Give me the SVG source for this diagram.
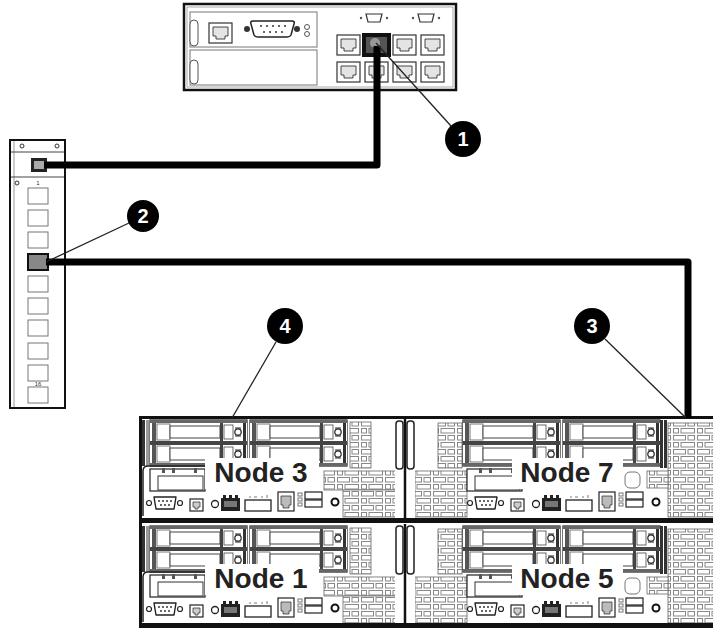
<svg xmlns="http://www.w3.org/2000/svg" width="713" height="628" viewBox="0 0 713 628">
<style>
.port{fill:#fff;stroke:#333;stroke-width:1.2}
.jack{fill:#e4e4e4;stroke:#333;stroke-width:0.9}
.swp{fill:#fff;stroke:#777;stroke-width:1}
.vent{fill:url(#brick);stroke:#666;stroke-width:0.8}
.cable{fill:none;stroke:#000;stroke-width:7;stroke-linejoin:round}
.lead{fill:none;stroke:#222;stroke-width:1.3}
.co{fill:#000}
.num{font-family:"Liberation Sans",Arial,sans-serif;font-weight:bold;font-size:20px;fill:#fff;text-anchor:middle}
.lbl{font-family:"Liberation Sans",Arial,sans-serif;font-weight:bold;font-size:28px;fill:#222;text-anchor:middle}
.tiny{font-family:"Liberation Sans",Arial,sans-serif;font-size:6px;fill:#333;text-anchor:middle}
.o{fill:#fff;stroke:#222;stroke-width:1.2}
.g{fill:#fff;stroke:#777;stroke-width:1}
</style>
<defs>
 <pattern id="brick" width="24" height="14" patternUnits="userSpaceOnUse">
  <rect width="24" height="14" fill="#fff"/>
  <g fill="#fff" stroke="#888" stroke-width="1">
   <rect x="1.5" y="1.5" width="12" height="4.5"/>
   <rect x="16" y="1.5" width="6.5" height="4.5"/>
   <rect x="1.5" y="8.5" width="5" height="4.5"/>
   <rect x="9" y="8.5" width="13.5" height="4.5"/>
  </g>
 </pattern>
 <g id="rj">
  <rect class="port" x="0" y="0" width="23" height="20"/>
  <path class="jack" d="M4,4 H19 V13 H16 V16 H7 V13 H4 Z"/>
 </g>
 <g id="drive">
  <rect x="0" y="0" width="97" height="18" fill="#fff"/>
  <rect x="2" y="0" width="4" height="18" fill="#555"/>
  <rect x="7" y="1" width="13" height="16" fill="#fff" stroke="#555" stroke-width="0.8"/>
  <rect x="20" y="3" width="50" height="12" fill="#fff" stroke="#444" stroke-width="1"/>
  <rect x="70" y="0" width="3" height="18" fill="#444"/>
  <rect x="74" y="2" width="9" height="14" fill="#fff" stroke="#444" stroke-width="0.8"/>
  <circle cx="88" cy="9" r="3.2" fill="#fff" stroke="#222" stroke-width="1.2"/>
  <path d="M85,5 h6 M85,13 h6" stroke="#222" stroke-width="1"/>
  <rect x="93" y="0" width="3" height="18" fill="#333"/>
 </g>
 <g id="bay">
  <rect x="0" y="0" width="97" height="46" fill="#fff" stroke="#222" stroke-width="1.2"/>
  <rect x="0" y="0" width="97" height="3" fill="#666"/>
  <use href="#drive" y="3"/>
  <rect x="0" y="21" width="97" height="4" fill="#444"/>
  <use href="#drive" y="25"/>
  <rect x="0" y="43" width="97" height="3" fill="#666"/>
 </g>
 <g id="bays">
  <use href="#bay" x="0"/>
  <use href="#bay" x="100"/>
 </g>
 <g id="pcie">
  <rect x="0" y="0" width="55" height="22" class="o"/>
  <rect x="8" y="7" width="45" height="14" fill="#fff" stroke="#333" stroke-width="1"/>
  <rect x="12" y="-1" width="3" height="5" fill="#555"/>
  <rect x="22" y="-1" width="3" height="5" fill="#555"/>
  <rect x="44" y="-1" width="3" height="5" fill="#555"/>
 </g>
 <g id="io">
  <circle cx="3" cy="7" r="2.5" class="o"/>
  <path d="M8,1 H30 L28,13 H10 Z" fill="#fff" stroke="#222" stroke-width="1.4" stroke-linejoin="round"/>
  <circle cx="34" cy="7" r="2.5" class="o"/>
  <g fill="#222">
   <circle cx="13" cy="5" r="0.9"/><circle cx="17" cy="5" r="0.9"/><circle cx="21" cy="5" r="0.9"/><circle cx="25" cy="5" r="0.9"/>
   <circle cx="15" cy="9" r="0.9"/><circle cx="19" cy="9" r="0.9"/><circle cx="23" cy="9" r="0.9"/>
  </g>
  <rect x="44" y="3" width="13" height="12" class="o"/>
  <path d="M47,6 h7 v5 h-2 v2 h-3 v-2 h-2z" fill="#ccc" stroke="#222" stroke-width="0.7"/>
  <circle cx="69" cy="8" r="3.5" fill="#fff" stroke="#222" stroke-width="1.3"/>
  <rect x="75" y="2" width="19" height="13" fill="#222"/>
  <rect x="78" y="5" width="13" height="6" fill="#777"/>
  <rect x="77" y="-1" width="3" height="3" fill="#222"/>
  <rect x="83" y="-1" width="3" height="3" fill="#222"/>
  <rect x="89" y="-1" width="3" height="3" fill="#222"/>
  <rect x="99" y="4" width="26" height="11" fill="#fff" stroke="#222" stroke-width="1.3"/>
  <path d="M103,1 h2 M108,1 h3 M115,1 h2 M121,-1 v3" stroke="#555" stroke-width="0.8"/>
  <rect x="132" y="-4" width="16" height="19" class="o"/>
  <path d="M135,0 h10 v9 h-2 v3 h-6 v-3 h-2 z" fill="#bbb" stroke="#222" stroke-width="0.7"/>
  <rect x="152" y="-3" width="4" height="3" class="g"/>
  <rect x="152" y="2" width="4" height="3" class="g"/>
  <rect x="152" y="7" width="4" height="3" class="g"/>
  <rect x="159" y="-4" width="17" height="7" class="o"/>
  <rect x="159" y="4" width="17" height="7" class="o"/>
  <circle cx="189" cy="6" r="3.5" fill="#fff" stroke="#111" stroke-width="2"/>
 </g>
 <g id="LB">
  <rect x="142" y="420" width="3" height="46" fill="#333"/>
  <rect x="146" y="420" width="3" height="46" fill="#999"/>
  <use href="#bays" x="150" y="420"/>
  <rect class="vent" x="350" y="422" width="21" height="46"/>
  <rect class="vent" x="324" y="471" width="74" height="19"/>
  <rect class="vent" x="343" y="490" width="55" height="27"/>
  <path d="M143,516 V471 Q143,466 148,466 H210" fill="none" stroke="#222" stroke-width="1.5"/>
  <use href="#pcie" x="150" y="469"/>
  <use href="#io" x="146" y="496"/>
  <rect x="205" y="458" width="114" height="31" fill="#fff"/>
 </g>
 <g id="RB">
  <rect class="vent" x="438" y="423" width="24" height="45"/>
  <rect class="vent" x="415" y="471" width="52" height="46"/>
  <use href="#bays" x="463" y="420"/>
  <rect x="660" y="420" width="3" height="48" fill="#333"/>
  <rect x="664" y="420" width="3" height="48" fill="#333"/>
  <rect class="vent" x="668" y="423" width="46" height="94"/>
  <rect class="vent" x="647" y="471" width="21" height="17"/>
  <use href="#pcie" x="467" y="469"/>
  <use href="#io" x="467" y="496"/>
  <rect x="625" y="472" width="15" height="16" rx="5" class="g"/>
  <rect x="512" y="458" width="111" height="31" fill="#fff"/>
 </g>
 <g id="DIV">
  <rect x="395" y="419" width="20" height="99" fill="#fff"/>
  <line x1="405" y1="419" x2="405" y2="518" stroke="#111" stroke-width="2.5"/>
  <rect x="396" y="421" width="7" height="48" rx="3" fill="#fff" stroke="#222" stroke-width="1.5"/>
  <rect x="407" y="421" width="7" height="48" rx="3" fill="#fff" stroke="#222" stroke-width="1.5"/>
 </g>
</defs>

<g id="management-device">
 <rect x="184" y="4" width="272" height="86" fill="#fff" stroke="#111" stroke-width="2.5"/>
 <rect x="187" y="7" width="266" height="80" fill="none" stroke="#aaa" stroke-width="1"/>
 <rect x="190" y="12" width="127" height="35" class="g"/>
 <rect x="190" y="50" width="127" height="35" class="g"/>
 <rect x="190" y="20" width="8" height="26" rx="4" fill="#fff" stroke="#555"/>
 <rect x="190" y="60" width="8" height="24" rx="4" fill="#fff" stroke="#555"/>
 <use href="#rj" x="209" y="23"/>
 <circle cx="247" cy="29" r="3" fill="#333"/>
 <path d="M253,21 H292 Q295,21 294,24 L291,35 Q290,37 287,37 H258 Q255,37 254,35 L251,24 Q250,21 253,21 Z" fill="#fff" stroke="#222" stroke-width="1.5"/>
 <g fill="#333">
  <circle cx="261" cy="26" r="1"/><circle cx="267" cy="26" r="1"/><circle cx="273" cy="26" r="1"/><circle cx="279" cy="26" r="1"/><circle cx="285" cy="26" r="1"/>
  <circle cx="264" cy="32" r="1"/><circle cx="270" cy="32" r="1"/><circle cx="276" cy="32" r="1"/><circle cx="282" cy="32" r="1"/>
 </g>
 <circle cx="297" cy="29" r="3" fill="#333"/>
 <circle cx="307" cy="27" r="2.5" fill="#fff" stroke="#555"/>
 <circle cx="307" cy="34" r="2.5" fill="#fff" stroke="#555"/>
 <circle cx="361" cy="18" r="1.2" fill="#555"/>
 <path d="M366,14 H382 L380,22 H368 Z" fill="#fff" stroke="#333" stroke-width="1.2"/>
 <circle cx="387" cy="18" r="1.2" fill="#555"/>
 <circle cx="413" cy="18" r="1.2" fill="#555"/>
 <path d="M418,14 H434 L432,22 H420 Z" fill="#fff" stroke="#333" stroke-width="1.2"/>
 <circle cx="439" cy="18" r="1.2" fill="#555"/>
 <use href="#rj" x="337" y="35"/>
 <use href="#rj" x="393" y="35"/>
 <use href="#rj" x="421" y="35"/>
 <use href="#rj" x="337" y="62"/>
 <use href="#rj" x="365" y="62"/>
 <use href="#rj" x="393" y="62"/>
 <use href="#rj" x="421" y="62"/>
 <rect x="362" y="33" width="29" height="24" fill="#111"/>
 <rect x="366" y="37" width="21" height="16" fill="#555"/>
 <circle cx="375" cy="43" r="5" fill="#999"/>
</g>

<g id="network-switch">
 <rect x="10" y="140" width="55" height="268" fill="#fff" stroke="#111" stroke-width="2"/>
 <line x1="14" y1="141" x2="14" y2="407" stroke="#999" stroke-width="1"/>
 <line x1="11" y1="152" x2="64" y2="152" stroke="#444" stroke-width="1"/>
 <circle cx="22" cy="146" r="2" fill="#fff" stroke="#333"/>
 <circle cx="57" cy="146" r="2" fill="#fff" stroke="#333"/>
 <rect x="31" y="158" width="16" height="14" fill="#222"/>
 <rect x="34" y="161" width="10" height="8" fill="#aaa"/>
 <line x1="11" y1="177" x2="64" y2="177" stroke="#444" stroke-width="1"/>
 <circle cx="17" cy="183" r="2" fill="#fff" stroke="#333"/>
 <text class="tiny" x="38" y="185">1</text>
 <rect class="swp" x="28" y="188" width="20" height="16"/>
 <rect class="swp" x="28" y="210" width="20" height="16"/>
 <rect class="swp" x="28" y="232" width="20" height="16"/>
 <rect x="28" y="254" width="20" height="16" fill="#888" stroke="#111" stroke-width="2"/>
 <rect class="swp" x="28" y="276" width="20" height="16"/>
 <rect class="swp" x="28" y="298" width="20" height="16"/>
 <rect class="swp" x="28" y="320" width="20" height="16"/>
 <rect class="swp" x="28" y="343" width="20" height="16"/>
 <rect class="swp" x="28" y="365" width="20" height="16"/>
 <text class="tiny" x="38" y="386">16</text>
 <rect class="swp" x="28" y="387" width="20" height="16"/>
</g>

<g id="node-3">
 <use href="#LB"/>
 <text class="lbl" x="261" y="482">Node 3</text>
</g>
<g id="node-7">
 <use href="#RB"/>
 <text class="lbl" x="567" y="482">Node 7</text>
</g>
<g id="node-1">
 <use href="#LB" transform="translate(0,106)"/>
 <text class="lbl" x="261" y="588">Node 1</text>
</g>
<g id="node-5">
 <use href="#RB" transform="translate(0,106)"/>
 <text class="lbl" x="567" y="588">Node 5</text>
</g>

<g id="chassis">
 <use href="#DIV"/>
 <use href="#DIV" transform="translate(0,105)"/>
 <rect x="139" y="416" width="580" height="3" fill="#111"/>
 <rect x="139" y="416" width="3" height="212" fill="#111"/>
 <rect x="139" y="518" width="580" height="5" fill="#111"/>
 <rect x="139" y="623" width="580" height="5" fill="#111"/>
</g>

<g id="connectors">
 <path class="cable" d="M377,46 V165 H44"/>
 <path class="cable" d="M46,262 H688 V418"/>
 <line class="lead" x1="376" y1="43" x2="451" y2="126"/>
 <line class="lead" x1="46" y1="262" x2="129" y2="223"/>
 <line class="lead" x1="276" y1="342" x2="232" y2="418"/>
 <line class="lead" x1="605" y1="339" x2="686" y2="418"/>
</g>

<g id="callout-1"><circle class="co" cx="463" cy="139" r="18"/><text class="num" x="463" y="146">1</text></g>
<g id="callout-2"><circle class="co" cx="143" cy="216" r="16"/><text class="num" x="143" y="223">2</text></g>
<g id="callout-3"><circle class="co" cx="592" cy="326" r="18"/><text class="num" x="592" y="333">3</text></g>
<g id="callout-4"><circle class="co" cx="285" cy="326" r="18"/><text class="num" x="285" y="333">4</text></g>
</svg>
